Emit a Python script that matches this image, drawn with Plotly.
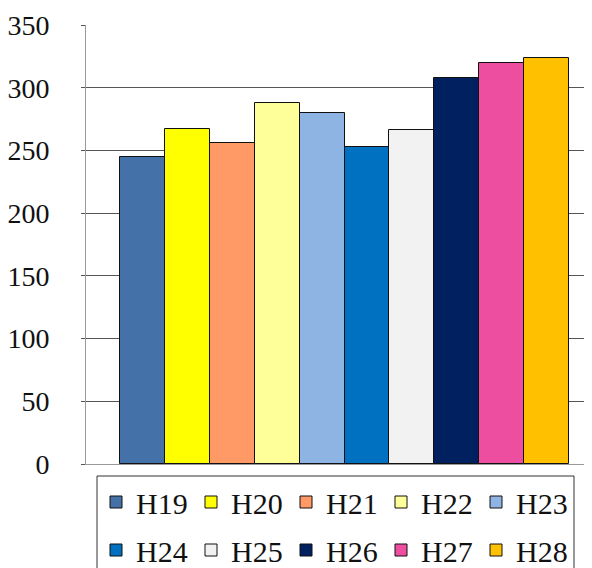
import plotly.graph_objects as go

categories = ["H19", "H20", "H21", "H22", "H23", "H24", "H25", "H26", "H27", "H28"]
values = [245, 267, 256, 288, 280, 253, 266, 308, 320, 324]
colors = ["#4472A8", "#FFFF00", "#FF9966", "#FFFF99", "#8EB4E3",
          "#0070C0", "#F2F2F2", "#002060", "#EE4E9F", "#FFC000"]
y_ticks = [0, 50, 100, 150, 200, 250, 300, 350]

FONT = "Liberation Serif"
OFF = 8  # page body margin of the html page
W, H = 592 - OFF, 568 - OFF
L, T, B = 86 - OFF, 25 - OFF, 568 - 464
plot_h = H - T - B
plot_w = W - L

fig = go.Figure()
for i, (c, v, col) in enumerate(zip(categories, values, colors)):
    fig.add_trace(go.Bar(
        x=[c], y=[v], name=c,
        marker=dict(color=col, line=dict(color="#111111", width=1)),
        legend="legend" if i < 5 else "legend2",
        hoverinfo="x+y",
    ))

def py(pix):
    # reference page pixel -> paper y
    return (H - B - (pix - OFF)) / plot_h

def px(pix):
    return (pix - OFF - L) / plot_w

legend_common = dict(
    orientation="h", xanchor="left", yanchor="middle",
    font=dict(family=FONT, size=30, color="#111111"),
    bgcolor="rgba(0,0,0,0)", borderwidth=0,
    entrywidth=50, entrywidthmode="pixels",
    itemclick=False, itemdoubleclick=False,
)

fig.update_layout(
    width=W, height=H,
    margin=dict(l=L, r=0, t=T, b=B, autoexpand=False),
    paper_bgcolor="white", plot_bgcolor="white",
    barmode="overlay", bargap=0,
    font=dict(family=FONT, size=28, color="#111111"),
    showlegend=True,
    legend=dict(x=px(96), y=py(502), **legend_common),
    legend2=dict(x=px(96), y=py(550), **legend_common),
    xaxis=dict(
        type="category", categoryorder="array", categoryarray=categories,
        range=[-1.257, 10.01], showticklabels=False, ticks="",
        showgrid=False, showline=True, linecolor="#999999", linewidth=1,
        zeroline=False, fixedrange=True,
    ),
    yaxis=dict(
        range=[0, 350], tickvals=y_ticks, ticktext=[str(t) for t in y_ticks],
        showgrid=True, gridcolor="#555555", gridwidth=1,
        showline=True, linecolor="#999999", linewidth=1,
        ticks="outside", ticklen=4, tickcolor="#555555",
        ticklabelstandoff=26,
        tickfont=dict(family=FONT, size=28, color="#111111"),
        zeroline=False, fixedrange=True,
    ),
    shapes=[dict(
        type="rect", xref="paper", yref="paper",
        x0=px(97), x1=px(574),
        y0=py(580), y1=py(476),
        line=dict(color="#333333", width=1), fillcolor="rgba(0,0,0,0)",
        layer="above",
    )],
)

fig.write_html("out.html")
